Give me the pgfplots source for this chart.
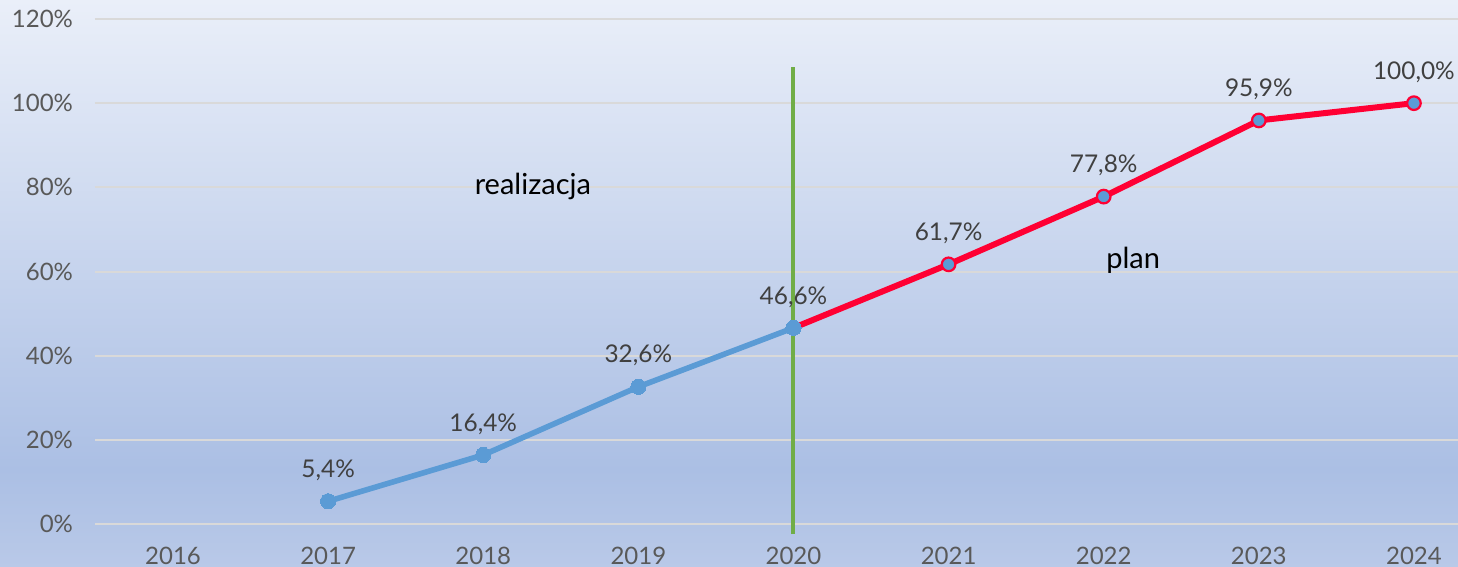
\documentclass[border=0pt]{standalone}
\usepackage{fontspec}
\setmainfont{Lato}
\usepackage{pgfplots}
\pgfplotsset{compat=1.18}
\definecolor{bgtop}{HTML}{EAEFF9}
\definecolor{bgmid}{HTML}{ABBFE4}
\definecolor{bgbot}{HTML}{B9C9E8}
\definecolor{txt}{HTML}{595959}
\definecolor{dtxt}{HTML}{404040}
\definecolor{lblue}{HTML}{5B9BD5}
\definecolor{lred}{HTML}{FF0033}
\definecolor{lgreen}{HTML}{70AD47}
\definecolor{gridc}{HTML}{D9D9D9}
\begin{document}
\begin{tikzpicture}
\fill[bottom color=bgbot, top color=bgmid] (0,0) rectangle (729pt,49pt);
\fill[bottom color=bgmid, top color=bgtop] (0,48.5pt) rectangle (729pt,283.5pt);
\begin{axis}[at={(47.5pt,0pt)}, anchor=south west, scale only axis,
  width=681.5pt, height=283.5pt,
  xmin=2015.497, xmax=2024.284, ymin=-10.22, ymax=124.52,
  axis line style={draw=none}, major tick length=0pt,
  xtick={2016,2017,2018,2019,2020,2021,2022,2023,2024},
  xticklabels={2016,2017,2018,2019,2020,2021,2022,2023,2024},
  ytick={0,20,40,60,80,100,120},
  yticklabel={\pgfmathprintnumber{\tick}\%},
  /pgf/number format/assume math mode=true,
  ymajorgrids, grid style={gridc, line width=1pt},
  ticklabel style={font=\fontsize{12}{14}\selectfont, text=txt},
  xticklabel style={anchor=center, yshift=5.5pt},
  yticklabel style={anchor=east, xshift=-7.5pt},
  clip=false,
  nodes near coords style={font=\fontsize{12.2}{14}\selectfont, text=dtxt, anchor=center, yshift=15.5pt},
]
\addplot[lblue, line width=2.8pt, mark=*, mark size=3.8pt,
  mark options={fill=lblue, draw=lblue, line width=0pt},
  nodes near coords={\pgfmathprintnumber[fixed,fixed zerofill,precision=1,use comma]{\pgfplotspointmeta}\%}]
  coordinates {(2017,5.4) (2018,16.4) (2019,32.6) (2020,46.6)};
\addplot[lred, line width=3pt, no marks]
  coordinates {(2020,46.6) (2021,61.7) (2022,77.8) (2023,95.9) (2024,100.0)};
\addplot[only marks, mark=*, mark size=3.4pt,
  mark options={fill=lblue, draw=lred, line width=1.1pt},
  nodes near coords={\pgfmathprintnumber[fixed,fixed zerofill,precision=1,use comma]{\pgfplotspointmeta}\%}]
  coordinates {(2021,61.7) (2022,77.8) (2023,95.9) (2024,100.0)};
\addplot[lgreen, line width=2pt, no marks]
  coordinates {(2020,-2.4) (2020,108.6)};
\node[font=\fontsize{14.5}{17}\selectfont, text=black] at (axis cs:2018.32,80.1) {realizacja};
\node[font=\fontsize{14.5}{17}\selectfont, text=black] at (axis cs:2022.19,62.7) {plan};
\end{axis}
\pgfresetboundingbox
\path[use as bounding box] (0,0) rectangle (729pt,283.5pt);
\end{tikzpicture}
\end{document}
